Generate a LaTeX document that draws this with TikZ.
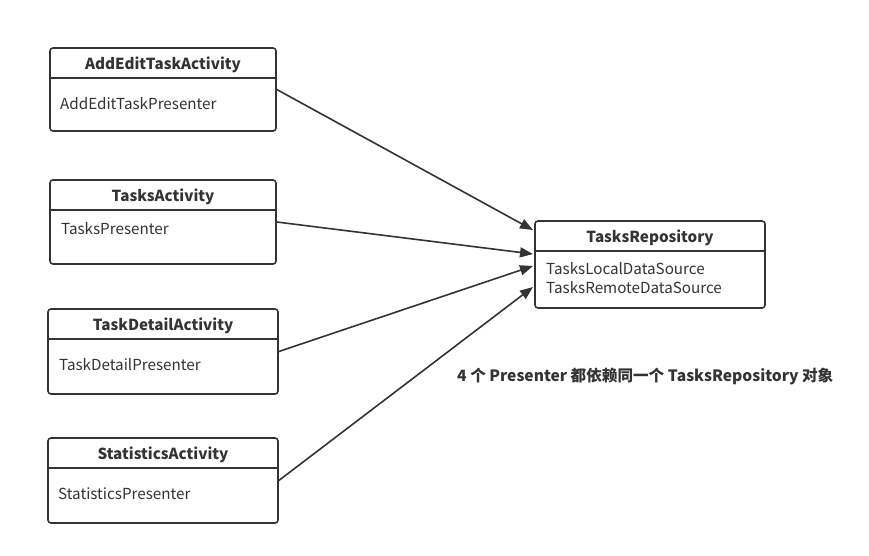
\documentclass[tikz,border=0pt]{standalone}
\usepackage{fontspec}
\setmainfont{Noto Sans CJK SC}
\newfontfamily\cjk{Noto Sans CJK SC}
\usetikzlibrary{arrows.meta,calc}
\definecolor{ink}{HTML}{333333}
\begin{document}
\begin{tikzpicture}[x=1pt,y=-1pt,
  box/.style={draw=ink,line width=1.6pt,rounded corners=3pt,inner sep=0pt},
  ttl/.style={font=\fontsize{15.2}{17}\selectfont\bfseries,text=ink,inner sep=0pt},
  bdy/.style={font=\fontsize{15.2}{19}\selectfont,text=ink,inner sep=0pt,anchor=west,align=left},
  div/.style={draw=ink,line width=1.6pt},
  conn/.style={draw=ink,line width=1.6pt,-{Triangle[length=13pt,width=10pt]}}]
\useasboundingbox (0,0) rectangle (869,555);
% box 1
\node[box,minimum width=226pt,minimum height=83pt] (a) at (163,89.5) {};
\node[ttl] (at) at (163,64.5) {AddEditTaskActivity};
\node[bdy] (ab) at (60,104) {AddEditTaskPresenter};
\draw[div] (50,78) -- (276,78);
% box 2
\node[box,minimum width=226pt,minimum height=84pt] (b) at (163,222) {};
\node[ttl] (bt) at (163,196.5) {TasksActivity};
\node[bdy] (bb) at (61,229) {TasksPresenter};
\draw[div] (50,210) -- (276,210);
% box 3
\node[box,minimum width=230pt,minimum height=85pt] (c) at (163,351.5) {};
\node[ttl] (ct) at (163,325.5) {TaskDetailActivity};
\node[bdy] (cb) at (59,365) {TaskDetailPresenter};
\draw[div] (48,339) -- (278,339);
% box 4
\node[box,minimum width=230pt,minimum height=85pt] (d) at (163,480.5) {};
\node[ttl] (dt) at (163,454.5) {StatisticsActivity};
\node[bdy] (db) at (58,494) {StatisticsPresenter};
\draw[div] (48,468) -- (278,468);
% repository
\node[box,minimum width=230pt,minimum height=87pt] (r) at (650,264.5) {};
\node[ttl] (rt) at (650,237.5) {TasksRepository};
\node[bdy] (rb) at (546,278.5) {TasksLocalDataSource\\TasksRemoteDataSource};
\draw[div] (535,251) -- (765,251);
% arrow ends
\coordinate (e1) at (533,230);
\coordinate (e2) at (533,254);
\coordinate (e3) at (533,266);
\coordinate (e4) at (533,287);
\draw[conn] (a.east) -- (e1);
\draw[conn] (b.east) -- (e2);
\draw[conn] (c.east) -- (e3);
\draw[conn] (d.east) -- (e4);
% caption
\node[ttl,anchor=west,font=\fontsize{15.6}{17}\selectfont\bfseries] (cap) at (457,376) {4 个 Presenter 都依赖同一个 TasksRepository 对象};
\end{tikzpicture}
\end{document}
